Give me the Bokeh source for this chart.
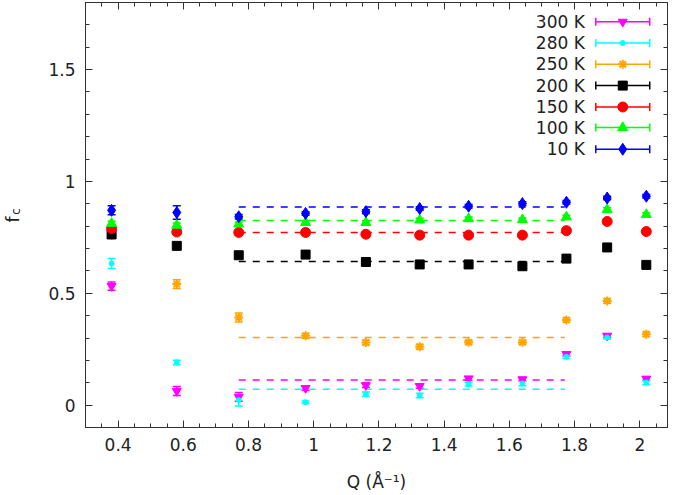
import numpy as np
from bokeh.plotting import figure
from bokeh.layouts import row
from bokeh.models import (ColumnDataSource, Whisker, TeeHead, FixedTicker,
                          PrintfTickFormatter, LinearAxis, Label, Range1d)
from bokeh.embed import file_html
from bokeh.resources import INLINE

# ---------------- data ----------------
q = [0.38, 0.58, 0.77, 0.975, 1.16, 1.325, 1.475, 1.64, 1.775, 1.90, 2.02]

labels = ["300 K", "280 K", "250 K", "200 K", "150 K", "100 K", "10 K"]

fc_300K = [0.532, 0.063, 0.037, 0.076, 0.089, 0.085, 0.119, 0.115, 0.228, 0.310, 0.118]
fc_280K = [0.633, 0.191, 0.022, 0.013, 0.049, 0.043, 0.094, 0.097, 0.216, 0.302, 0.101]
fc_250K = [0.760, 0.541, 0.392, 0.310, 0.280, 0.261, 0.281, 0.281, 0.381, 0.466, 0.317]
fc_200K = [0.763, 0.712, 0.670, 0.673, 0.640, 0.629, 0.629, 0.621, 0.655, 0.705, 0.627]
fc_150K = [0.790, 0.774, 0.772, 0.772, 0.764, 0.760, 0.760, 0.760, 0.780, 0.821, 0.776]
fc_100K = [0.812, 0.804, 0.809, 0.816, 0.816, 0.827, 0.833, 0.829, 0.841, 0.874, 0.852]
fc_10K = [0.871, 0.861, 0.842, 0.857, 0.865, 0.879, 0.889, 0.901, 0.907, 0.926, 0.934]

err_300K = [0.018, 0.020, 0.020, 0.010, 0.010, 0.010, 0.008, 0.008, 0.008, 0.008, 0.008]
err_280K = [0.022, 0.010, 0.026, 0.006, 0.010, 0.010, 0.008, 0.010, 0.008, 0.006, 0.010]
err_250K = [0.010, 0.020, 0.020, 0.010, 0.010, 0.010, 0.008, 0.008, 0.010, 0.010, 0.010]
err_200K = [0.010, 0.010, 0.010, 0.010, 0.010, 0.010, 0.010, 0.010, 0.010, 0.010, 0.010]
err_150K = [0.010, 0.010, 0.010, 0.008, 0.008, 0.010, 0.008, 0.008, 0.010, 0.010, 0.010]
err_100K = [0.010, 0.010, 0.010, 0.008, 0.008, 0.008, 0.008, 0.008, 0.008, 0.008, 0.008]
err_10K = [0.020, 0.030, 0.010, 0.008, 0.008, 0.008, 0.008, 0.008, 0.008, 0.008, 0.008]

# dashed averages over the middle Q range
fit_q_start = 0.77
fit_q_end = 1.77
fit_300K = 0.112
fit_280K = 0.071
fit_250K = 0.302
fit_200K = 0.642
fit_150K = 0.772
fit_100K = 0.825
fit_10K = 0.886

x_ticks = [0.4, 0.6, 0.8, 1.0, 1.2, 1.4, 1.6, 1.8, 2.0]
y_ticks = [0.0, 0.5, 1.0, 1.5]

# ---------------- styles ----------------
colors = ["#ff00ff", "#00ffff", "#ffa500", "#000000", "#ff0000", "#00ff00", "#0000ff"]
markers = ["inverted_triangle", "circle", "asterisk", "square", "circle", "triangle", "diamond"]
msizes = [9, 5, 9, 9, 10, 10, 12]
values = [fc_300K, fc_280K, fc_250K, fc_200K, fc_150K, fc_100K, fc_10K]
errors = [err_300K, err_280K, err_250K, err_200K, err_150K, err_100K, err_10K]
fits = [fit_300K, fit_280K, fit_250K, fit_200K, fit_150K, fit_100K, fit_10K]

FONT = "DejaVu Sans"
TXT = "#222222"
AX = "#333333"

W_LAB = 30          # narrow strip on the left that carries the rotated y title
H = 495
FRAME_BOTTOM = 427  # frames of the row are aligned; screen y counts up from here
X0, X1 = 0.3, 2.085
Y0, Y1 = -0.1, 1.8

p = figure(width=675 - W_LAB, height=H, x_range=Range1d(X0, X1), y_range=Range1d(Y0, Y1),
           output_backend="svg", toolbar_location=None,
           min_border_left=85 - W_LAB, min_border_right=8, min_border_top=2,
           min_border_bottom=68)
p.grid.visible = False
p.outline_line_color = AX
p.outline_line_width = 1
p.background_fill_color = "white"
p.border_fill_color = "white"

x_minor = [round(v, 3) for v in np.arange(0.30, 2.0851, 0.05)]
y_minor = [round(v, 3) for v in np.arange(-0.1, 1.801, 0.1)]


def style_axis(ax, ticks, minor, show_labels):
    ax.ticker = FixedTicker(ticks=ticks, minor_ticks=minor)
    ax.formatter = PrintfTickFormatter(format="%g")
    ax.axis_line_color = AX
    ax.major_tick_line_color = AX
    ax.minor_tick_line_color = AX
    ax.major_tick_in = 7
    ax.major_tick_out = 0
    ax.minor_tick_in = 4
    ax.minor_tick_out = 0
    ax.major_label_text_font = FONT
    ax.major_label_text_font_size = "17px"
    if show_labels:
        ax.major_label_text_color = TXT
        ax.major_label_standoff = 10
    else:
        ax.major_label_text_color = None
        ax.major_label_standoff = 0


style_axis(p.xaxis[0], x_ticks, x_minor, True)
style_axis(p.yaxis[0], y_ticks, y_minor, True)
p.xaxis[0].axis_label = "Q (Å⁻¹)"
p.xaxis[0].axis_label_text_font = FONT
p.xaxis[0].axis_label_text_font_size = "17px"
p.xaxis[0].axis_label_text_font_style = "normal"
p.xaxis[0].axis_label_text_color = TXT
p.xaxis[0].axis_label_standoff = 18

top_axis = LinearAxis()
style_axis(top_axis, x_ticks, x_minor, False)
p.add_layout(top_axis, "above")
right_axis = LinearAxis()
style_axis(right_axis, y_ticks, y_minor, False)
p.add_layout(right_axis, "right")

# dashed average lines (under the points)
for c, f in zip(colors, fits):
    p.line([fit_q_start, fit_q_end], [f, f], line_color=c, line_width=1.5, line_dash="7 7")

# error bars and points
for c, m, s, v, e in zip(colors, markers, msizes, values, errors):
    src = ColumnDataSource(dict(q=q, v=v,
                                lo=[a - b for a, b in zip(v, e)],
                                hi=[a + b for a, b in zip(v, e)]))
    w = Whisker(base="q", lower="lo", upper="hi", source=src, line_color=c, line_width=1.5,
                upper_head=TeeHead(size=8, line_color=c, line_width=1.5),
                lower_head=TeeHead(size=8, line_color=c, line_width=1.5))
    p.add_layout(w)
    if m == "asterisk":
        p.scatter("q", "v", source=src, marker=m, size=s, line_color=c, line_width=2)
    else:
        p.scatter("q", "v", source=src, marker=m, size=s, fill_color=c, line_color=c)

# ---------------- key (gnuplot style, placed by reference pixel offsets) ----------------
def dx(px):
    return X0 + (px - 85.0) / 326.5


def dy(py):
    return (405.0 - py) / 223.8


row_px = [21.5, 42.7, 64.0, 85.3, 106.7, 127.3, 149.0]
for lab, c, m, s, ry in zip(labels, colors, markers, msizes, row_px):
    yv = dy(ry)
    p.add_layout(Label(x=dx(585), y=yv, text=lab, text_align="right", text_baseline="middle",
                       text_font=FONT, text_font_size="17px", text_color=TXT))
    ksrc = ColumnDataSource(dict(y=[yv], lo=[dx(596)], hi=[dx(650)], x=[dx(623)]))
    p.add_layout(Whisker(base="y", lower="lo", upper="hi", dimension="width", source=ksrc,
                         line_color=c, line_width=1.5,
                         upper_head=TeeHead(size=8, line_color=c, line_width=1.5),
                         lower_head=TeeHead(size=8, line_color=c, line_width=1.5)))
    if m == "asterisk":
        p.scatter("x", "y", source=ksrc, marker=m, size=s, line_color=c, line_width=2)
    else:
        p.scatter("x", "y", source=ksrc, marker=m, size=s, fill_color=c, line_color=c)

# ---------------- y title f_c in a narrow strip to the left ----------------
t = figure(width=W_LAB, height=H, x_range=Range1d(0, 1), y_range=Range1d(0, 1),
           output_backend="svg", toolbar_location=None,
           x_axis_type=None, y_axis_type=None, min_border=0)
t.grid.visible = False
t.outline_line_color = None
t.background_fill_color = "white"
t.border_fill_color = "white"
t.add_layout(Label(x=12, y=FRAME_BOTTOM - 219, x_units="screen", y_units="screen",
                   text="f", angle=np.pi / 2, text_align="center",
                   text_baseline="middle", text_font=FONT, text_font_size="17px",
                   text_color=TXT))
t.add_layout(Label(x=15, y=FRAME_BOTTOM - 211, x_units="screen", y_units="screen",
                   text="c", angle=np.pi / 2, text_align="center",
                   text_baseline="middle", text_font=FONT, text_font_size="12px",
                   text_color=TXT))

layout = row(t, p, spacing=0)
open("out.html", "w").write(file_html(layout, INLINE))
